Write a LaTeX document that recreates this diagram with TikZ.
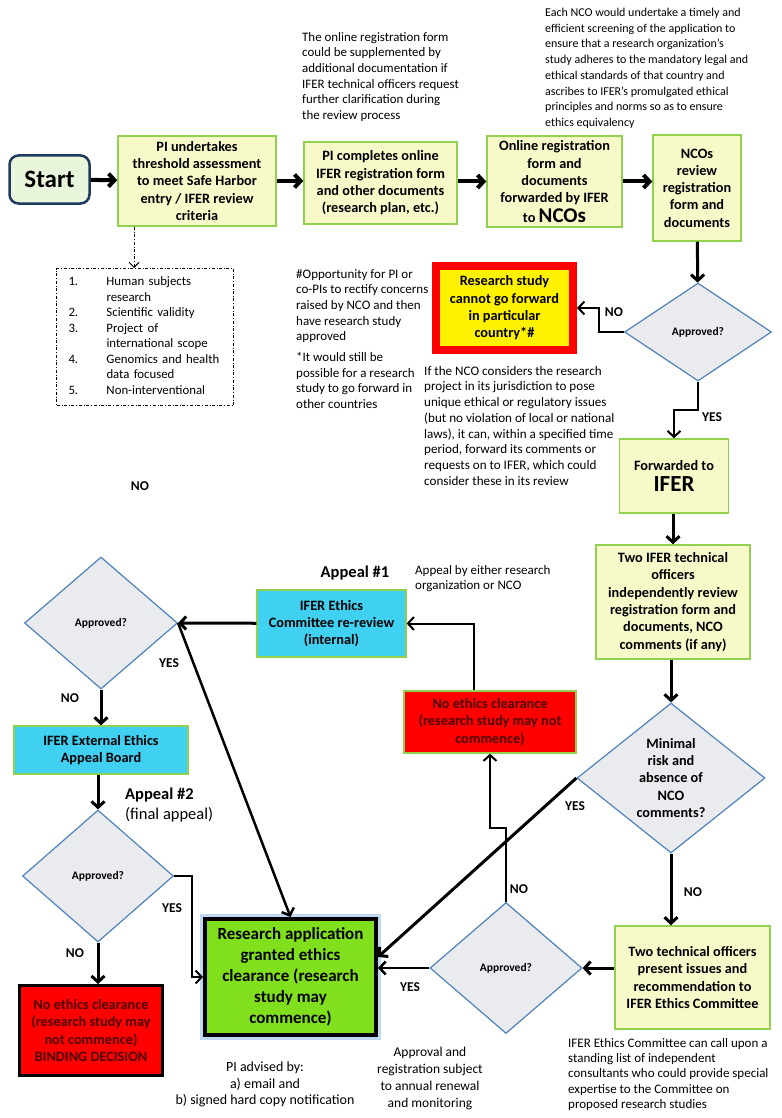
\documentclass[tikz,border=0pt]{standalone}
\usepackage{fontspec}
\setmainfont{Carlito}
\usetikzlibrary{arrows.meta,shapes.geometric,calc}
\definecolor{ybox}{HTML}{F7FAC8}
\definecolor{gborder}{HTML}{92D050}
\definecolor{startfill}{HTML}{E8F7DC}
\definecolor{startborder}{HTML}{1F3A5F}
\definecolor{dfill}{HTML}{E9EBEE}
\definecolor{dborder}{HTML}{4F81BD}
\definecolor{cyanbox}{HTML}{3FD0F2}
\definecolor{redtext}{HTML}{4A0000}
\definecolor{brightgreen}{HTML}{80E01E}
\definecolor{glow}{HTML}{BFD9F2}
\tikzset{
  boxfont/.style={font=\bfseries\fontsize{14.3}{17.3}\selectfont},
  ybx/.style={draw=gborder, line width=1.5pt, fill=ybox, align=center, inner sep=0pt, boxfont},
  cbx/.style={draw=gborder, line width=1.2pt, fill=cyanbox, align=center, inner sep=0pt, boxfont},
  dia/.style={diamond, draw=dborder, fill=dfill, line width=1.2pt, inner sep=0pt, align=center, font=\bfseries\fontsize{11.5}{13}\selectfont},
  ann/.style={anchor=north west, align=left, inner sep=0pt, font=\fontsize{12}{15.7}\selectfont},
  lbl/.style={inner sep=0pt, font=\bfseries\fontsize{13.5}{15}\selectfont},
  fl/.style={->, line width=4pt},
  fm/.style={->, line width=3pt},
  fs/.style={->, line width=2pt},
}
\begin{document}
\begin{tikzpicture}[x=1pt,y=-1pt, >={Straight Barb[length=6pt,width=13pt]}, line join=miter]
\path[use as bounding box] (0,0) rectangle (781,1118);

% top row
\node[draw=startborder, line width=2.5pt, fill=startfill, rounded corners=9pt, minimum width=80pt, minimum height=48pt, inner sep=0pt, font=\bfseries\fontsize{25}{28}\selectfont] (start) at (49.5,179.5) {Start};
\node[ybx, minimum width=158pt, minimum height=90pt] (pi1) at (197,181) {PI undertakes\\threshold assessment\\to meet Safe Harbor\\entry / IFER review\\criteria};
\node[ybx, minimum width=153pt, minimum height=82pt] (pi2) at (380.5,183) {PI completes online\\IFER registration form\\and other documents\\(research plan, etc.)};
\node[ybx, minimum width=135pt, minimum height=91pt] (online) at (554.5,181.5) {Online registration\\form and\\documents\\forwarded by IFER\\[2pt]to {\fontsize{21}{21}\selectfont NCOs}};
\node[ybx, minimum width=88pt, minimum height=106pt] (ncos) at (697,188) {NCOs\\review\\registration\\form and\\documents};

\draw[fl] (start) -- (pi1);
\draw[fl] (pi1) -- (pi1 -| pi2.west);
\draw[fl] (pi2.east |- online) -- (online);
\draw[fl] (online) -- (online -| ncos.west);

% annotations top
\node[ann, font=\fontsize{12.9}{15.7}\selectfont] (a1) at (302,32) {The online registration form\\could be supplemented by\\additional documentation if\\IFER technical officers request\\further clarification during\\the review process};
\node[ann] (a2) at (545,8) {Each NCO would undertake a timely and\\efficient screening of the application to\\ensure that a research organization’s\\study adheres to the mandatory legal and\\ethical standards of that country and\\ascribes to IFER’s promulgated ethical\\principles and norms so as to ensure\\ethics equivalency};

% criteria list
\node[draw, dash dot, line width=1pt, anchor=north west, minimum width=177pt, minimum height=137pt, text width=153pt, inner xsep=12pt, inner ysep=6pt, align=left, font=\fontsize{12.8}{15.5}\selectfont] (list) at (56,268) {%
\begin{tabular}{@{}p{38pt}@{}l@{}}
1. & Human subjects\\
   & research\\
2. & Scientific validity\\
3. & Project of\\
   & international scope\\
4. & Genomics and health\\
   & data focused\\
5. & Non-interventional
\end{tabular}};
\draw[->, dash dot, line width=1pt, >={Straight Barb[length=5pt,width=10pt]}] ([xshift=-63pt]pi1.south) -- ([xshift=-63pt]pi1.south |- list.north);

\node[ann, font=\fontsize{13}{15.7}\selectfont] (a3) at (296,269) {\#Opportunity for PI or\\co-PIs to rectify concerns\\raised by NCO and then\\have research study\\approved};
\node[ann, font=\fontsize{13}{15.7}\selectfont] (a4) at (296,352) {*It would still be\\possible for a research\\study to go forward in\\other countries};
\node[lbl] (orphan) at (140,486) {NO};

% NCO decision
\node[dia, minimum width=147pt, minimum height=98pt] (d1) at (698,332) {Approved?};
\draw[fm] (ncos) -- (d1);
\node[draw=red, line width=8pt, fill=yellow, minimum width=137pt, minimum height=84pt, inner sep=0pt, align=center, boxfont] (red1) at (504.5,308) {Research study\\cannot go forward\\in particular\\country*\#};
\draw[fs] (d1.west) -- ++(-25,0) |- (red1.east);
\node[lbl] at (614,312) {NO};
\node[ybx, minimum width=109pt, minimum height=74pt] (fwd) at (674,476) {Forwarded to\\[3pt]{\fontsize{23}{23}\selectfont IFER}};
\draw[fs] (d1.south) -- ++(0,28) -| (fwd.north);
\node[lbl] at (712,417) {YES};
\node[ann, font=\fontsize{13.1}{15.7}\selectfont] (a5) at (424,366) {If the NCO considers the research\\project in its jurisdiction to pose\\unique ethical or regulatory issues\\(but no violation of local or national\\laws), it can, within a specified time\\period, forward its comments or\\requests on to IFER, which could\\consider these in its review};

% IFER review
\node[ybx, minimum width=154pt, minimum height=114pt] (two1) at (673,602) {Two IFER technical\\officers\\independently review\\registration form and\\documents, NCO\\comments (if any)};
\draw[fm] (fwd.south -| two1.north) -- (two1.north);
\node[dia, aspect=1.25, minimum width=188pt, minimum height=150pt, boxfont] (d2) at (671,778) {Minimal\\risk and\\absence of\\NCO\\comments?};
\draw[fm] (two1.south -| d2.north) -- (d2.north);
\node[ybx, minimum width=155pt, minimum height=103pt] (tech2) at (692.5,977.5) {Two technical officers\\present issues and\\recommendation to\\IFER Ethics Committee};
\draw[fm] (d2.south) -- (d2.south |- tech2.north);
\node[lbl] at (693,892) {NO};
\node[dia, minimum width=152pt, minimum height=131pt] (d3) at (506,968) {Approved?};
\draw[fm] (tech2.west |- d3.east) -- (d3.east);

% green result
\node[draw=black, line width=4pt, fill=brightgreen, preaction={draw=glow, line width=10pt}, minimum width=171pt, minimum height=116pt, inner sep=0pt, align=center, font=\bfseries\fontsize{17}{21}\selectfont] (green) at (290.5,977) {Research application\\granted ethics\\clearance (research\\study may\\commence)};
\draw[->, line width=2.5pt] (d3.west) -- (d3.west -| green.east);
\node[lbl] at (410,987) {YES};
\draw[fm] (d2.west) -- ($(green.east)+(0,-20)$);
\node[lbl] at (575,806) {YES};

% no clearance and appeal #1
\node[draw=gborder, line width=1.2pt, fill=red, minimum width=172pt, minimum height=62pt, inner sep=0pt, align=center, text=redtext, boxfont] (red2) at (490,722) {\bfseries No ethics clearance\\\bfseries (research study may not\\\bfseries commence)};
\draw[fs] (d3.north) -- ++(0,-74) -| (red2.south);
\node[lbl] at (519,889) {NO};
\node[cbx, minimum width=149pt, minimum height=67pt] (rerev) at (331.5,623.5) {IFER Ethics\\Committee re-review\\(internal)};
\draw[fs] ([xshift=-16pt]red2.north) |- (rerev.east);
\node[inner sep=0pt, font=\bfseries\fontsize{16.5}{18}\selectfont] (ap1) at (355,573) {Appeal \#1};
\node[ann, font=\fontsize{13}{15.7}\selectfont] (a6) at (415,565) {Appeal by either research\\organization or NCO};

\node[dia, minimum width=153pt, minimum height=132pt] (d4) at (101,623) {Approved?};
\draw[fm] (rerev) -- (d4.east);
\draw[->, line width=2.5pt] (d4.east) -- (green.north);
\node[lbl] at (169,663) {YES};
\node[cbx, minimum width=174pt, minimum height=48pt] (ext) at (101,750) {IFER External Ethics\\Appeal Board};
\draw[fm] (d4.south) -- (d4.south |- ext.north);
\node[lbl] at (70,698) {NO};

% appeal #2
\node[dia, minimum width=151pt, minimum height=132pt] (d5) at (98,876) {Approved?};
\draw[fm] (ext.south -| d5.north) -- (d5.north);
\node[anchor=west, inner sep=0pt, font=\bfseries\fontsize{16.5}{18}\selectfont] (ap2) at (125,795) {Appeal \#2};
\node[anchor=west, inner sep=0pt, font=\fontsize{16.5}{18}\selectfont] (ap2b) at (125,815) {(final appeal)};
\draw[fs] (d5.east) -- ++(18,0) |- (green.west);
\node[lbl] at (172,908) {YES};
\node[draw=black, line width=3pt, fill=red, minimum width=143pt, minimum height=90pt, inner sep=0pt, align=center, text=redtext, boxfont] (red3) at (91,1030.5) {\bfseries No ethics clearance\\\bfseries (research study may\\\bfseries not commence)\\\bfseries BINDING DECISION};
\draw[fm] (d5.south) -- (d5.south |- red3.north);
\node[lbl] at (75,953) {NO};

% bottom notes
\node[anchor=north, align=center, inner sep=0pt, font=\fontsize{14}{16.5}\selectfont] (n1) at (265,1062) {PI advised by:\\a) email and\\b) signed hard copy notification};
\node[anchor=north, align=center, inner sep=0pt, font=\fontsize{13.5}{17}\selectfont] (n2) at (430,1047) {Approval and\\registration subject\\to annual renewal\\and monitoring};
\node[ann, font=\fontsize{13}{15.3}\selectfont] (n3) at (568,1038) {IFER Ethics Committee can call upon a\\standing list of independent\\consultants who could provide special\\expertise to the Committee on\\proposed research studies};
\end{tikzpicture}
\end{document}
